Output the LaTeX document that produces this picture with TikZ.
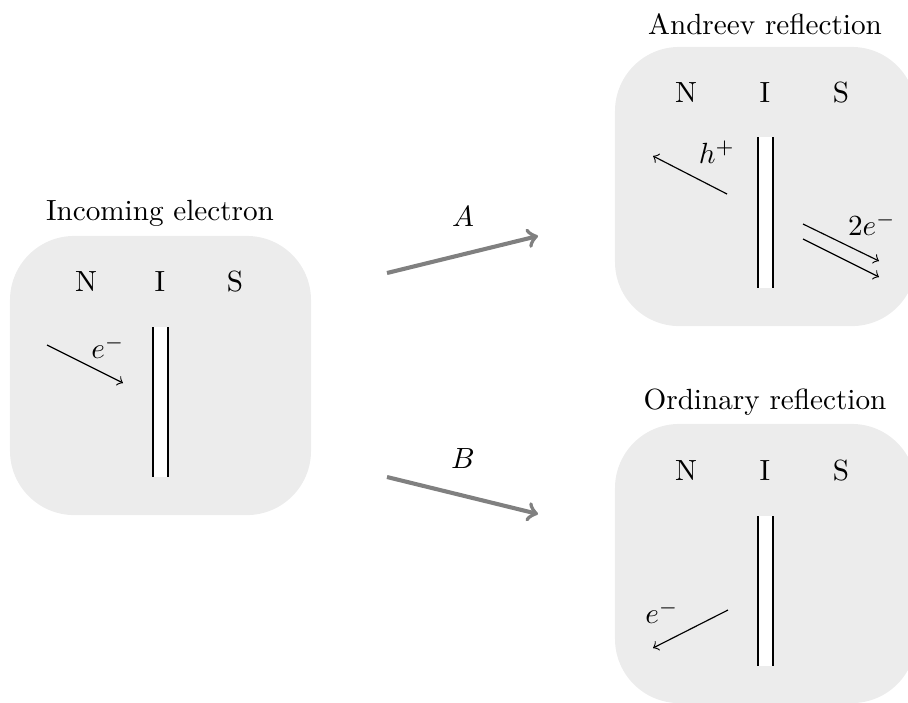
\documentclass[tikz,border=0pt]{standalone}
\begin{document}
\begin{tikzpicture}[x=0.3425pt,y=-0.3425pt,
  panel/.style={fill=gray!15,draw=none,rounded corners=22pt,minimum width=103.1pt,minimum height=95.6pt,inner sep=0pt},
  ttl/.style={inner sep=1pt},
  lbl/.style={inner sep=1pt},
  wall/.style={line width=0.4pt},
  part/.style={->,line width=0.4pt},
  big/.style={->,line width=1.4pt,draw=gray}]
\useasboundingbox (0,0) rectangle (908,702);
% panels
\node[panel] (P1) at (160.5,375.5) {};
\node[panel] (P2) at (765.5,186.5) {};
\node[panel] (P3) at (765.5,563.5) {};
% titles
\node[ttl] (T1) at (160,213) {Incoming electron};
\node[ttl] (T2) at (765,24) {Andreev reflection};
\node[ttl] (T3) at (765,402) {Ordinary reflection};
% N I S labels
\node[lbl] (N1) at (86,282) {N};
\node[lbl] (I1) at (160,282) {I};
\node[lbl] (S1) at (235,282) {S};
\node[lbl] (N2) at (686,93) {N};
\node[lbl] (I2) at (765,93) {I};
\node[lbl] (S2) at (841,93) {S};
\node[lbl] (N3) at (686,471) {N};
\node[lbl] (I3) at (765,471) {I};
\node[lbl] (S3) at (841,471) {S};
% barriers
\fill[white] (153,327) rectangle (168,477);
\draw[wall] (153,327) -- (153,477) (168,327) -- (168,477);
\fill[white] (758,137) rectangle (773,288);
\draw[wall] (758,137) -- (758,288) (773,137) -- (773,288);
\fill[white] (758,516) rectangle (773,666);
\draw[wall] (758,516) -- (758,666) (773,516) -- (773,666);
% incoming electron
\coordinate (e1s) at (47,345);
\coordinate (e1e) at (123,383);
\draw[part] (e1s) -- (e1e);
\node[lbl] (le1) at (108,347) {$e^-$};
% Andreev
\coordinate (hs) at (727,194);
\coordinate (he) at (653,156);
\draw[part] (hs) -- (he);
\node[lbl] (lh) at (717,152) {$h^+$};
\coordinate (a1s) at (803,224);
\coordinate (a1e) at (879,261);
\coordinate (a2s) at (803,239);
\coordinate (a2e) at (879,277);
\draw[part] (a1s) -- (a1e);
\draw[part] (a2s) -- (a2e);
\node[lbl] (l2e) at (872,224) {$2e^-$};
% ordinary
\coordinate (os) at (728,610);
\coordinate (oe) at (653,648);
\draw[part] (os) -- (oe);
\node[lbl] (lo) at (662,612) {$e^-$};
% big arrows
\coordinate (As) at (387,273);
\coordinate (Ae) at (538,236);
\draw[big] (As) -- (Ae);
\node[lbl] (lA) at (463,217) {$A$};
\coordinate (Bs) at (387,477);
\coordinate (Be) at (538,514);
\draw[big] (Bs) -- (Be);
\node[lbl] (lB) at (463,459) {$B$};
\end{tikzpicture}
\end{document}
